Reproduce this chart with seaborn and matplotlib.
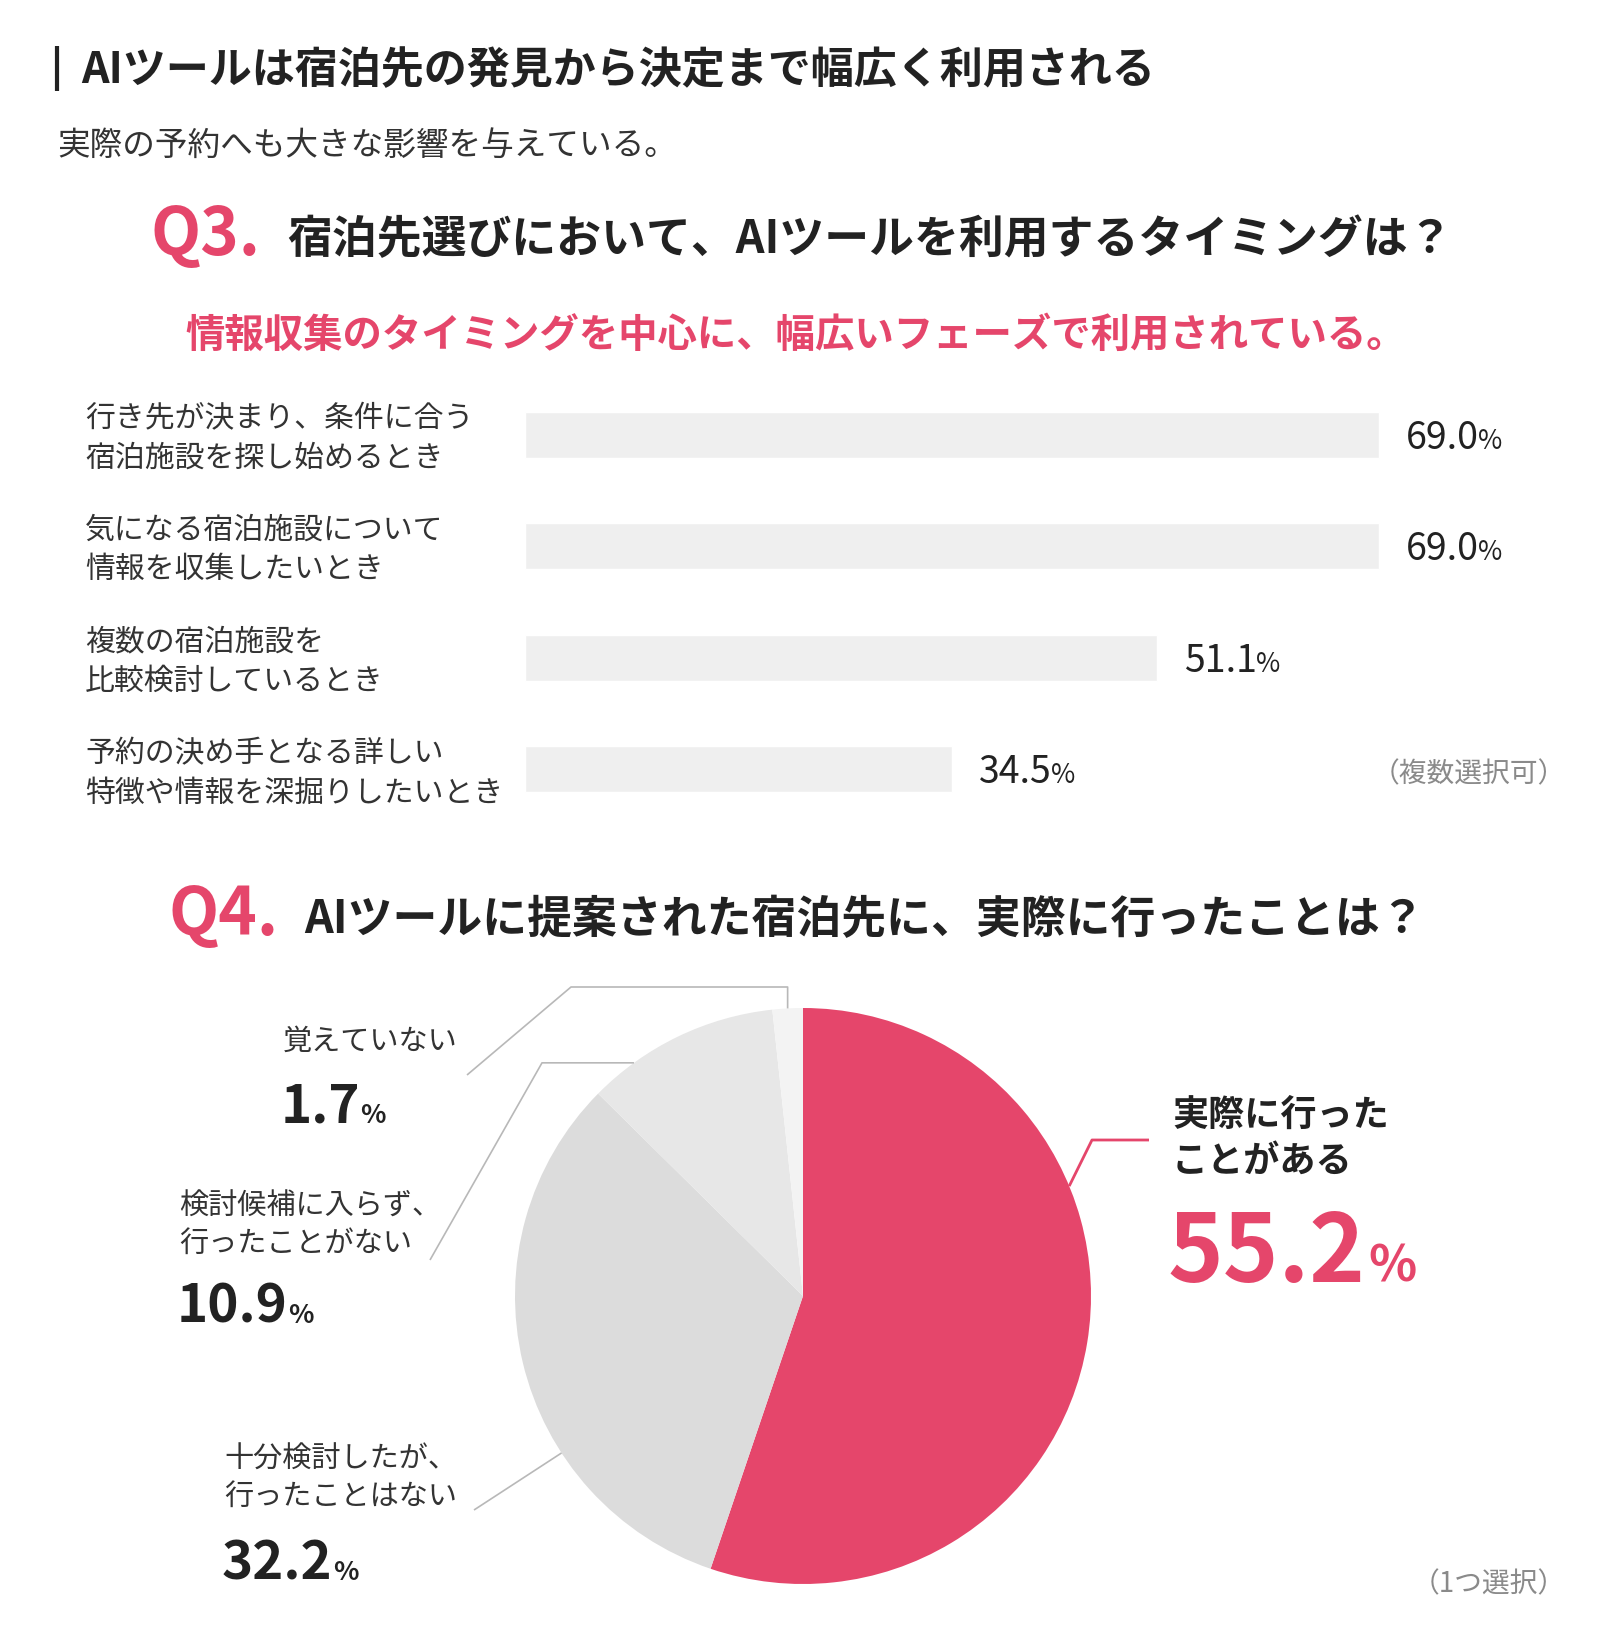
import matplotlib
matplotlib.use("Agg")
import matplotlib.pyplot as plt
import seaborn as sns
import pandas as pd
import numpy as np
from matplotlib.lines import Line2D
from matplotlib.transforms import IdentityTransform

sns.set_theme(style="white")
plt.rcParams['font.family'] = ['Noto Sans CJK JP', 'DejaVu Sans']

PINK = '#e5466b'
DARK = '#222222'
LINE_GREY = '#b8b8b8'

# Q3 data (multiple answers)
q3_labels = ["行き先が決まり、条件に合う\n宿泊施設を探し始めるとき",
             "気になる宿泊施設について\n情報を収集したいとき",
             "複数の宿泊施設を\n比較検討しているとき",
             "予約の決め手となる詳しい\n特徴や情報を深掘りしたいとき"]
q3_values = [69.0, 69.0, 51.1, 34.5]

# Q4 data (single answer)
q4_labels = ["実際に行った\nことがある",
             "十分検討したが、\n行ったことはない",
             "検討候補に入らず、\n行ったことがない",
             "覚えていない"]
q4_values = [55.2, 32.2, 10.9, 1.7]
q4_colors = [PINK, '#dcdcdc', '#e7e7e7', '#f3f3f3']

W, H = 1600, 1631
fig = plt.figure(figsize=(W / 100, H / 100), dpi=100)
fig.patch.set_facecolor('white')
renderer = fig.canvas.get_renderer()


def txt(x, y, s, size, **kw):
    # x, y in image pixels (y from top)
    kw.setdefault('color', DARK)
    kw.setdefault('va', 'center')
    return fig.text(x / W, 1 - y / H, s, fontsize=size, **kw)


def num_pct(x_disp, y_base_disp, num, nsize, psize, color=DARK, weight='normal', gap=0):
    t = fig.text(x_disp / W, y_base_disp / H, num, fontsize=nsize, color=color,
                 weight=weight, va='baseline', ha='left')
    bb = t.get_window_extent(renderer)
    fig.text((bb.x1 + gap) / W, y_base_disp / H, '%', fontsize=psize, color=color,
             weight=weight, va='baseline', ha='left')


def poly(points, color=LINE_GREY, lw=1.2):
    xs = [p[0] for p in points]
    ys = [H - p[1] for p in points]
    fig.add_artist(Line2D(xs, ys, color=color, lw=lw, transform=IdentityTransform(),
                          solid_capstyle='butt'))


# ---- header
poly([(57, 47), (57, 92)], color=DARK, lw=3)
txt(81, 70, "AIツールは宿泊先の発見から決定まで幅広く利用される", 31, weight='bold')
txt(57, 146, "実際の予約へも大きな影響を与えている。", 23.5, color='#333333')

# ---- Q3
txt(150, 236, "Q3.", 47, weight='bold', color=PINK)
txt(287, 240, "宿泊先選びにおいて、AIツールを利用するタイミングは？", 32.3, weight='bold')
txt(796, 335, "情報収集のタイミングを中心に、幅広いフェーズで利用されている。", 28.4,
    weight='bold', color=PINK, ha='center')

df3 = pd.DataFrame({'label': q3_labels, 'value': q3_values})
ax_bar = fig.add_axes([525 / W, (H - 826) / H, 1000 / W, 446 / H])
sns.barplot(data=df3, x='value', y='label', orient='h', color='#efefef',
            saturation=1, width=0.41, ax=ax_bar)
ax_bar.set_xlim(0, 69.0 * 1000 / 854)
ax_bar.set_ylim(3.5, -0.5)
ax_bar.axis('off')

for i, (lab, v) in enumerate(zip(q3_labels, q3_values)):
    xd, yd = ax_bar.transData.transform((v, i))
    _, y0 = ax_bar.transData.transform((0, i))
    fig.text(85 / W, (y0 - 3) / H, lab, fontsize=21.5, color='#333333',
             va='center', ha='left', linespacing=1.35)
    num_pct(xd + 27, yd - 13, f"{v:.1f}", 27, 19, gap=-1)

txt(1566, 774, "（複数選択可）", 20, color='#8a8a8a', ha='right')

# ---- Q4
txt(168, 916, "Q4.", 47, weight='bold', color=PINK)
txt(304, 920, "AIツールに提案された宿泊先に、実際に行ったことは？", 32.3, weight='bold')

r_px = 288 * 1.02
ax_pie = fig.add_axes([(803 - r_px) / W, (H - 1297 - r_px) / H, 2 * r_px / W, 2 * r_px / H])
wedges, _ = ax_pie.pie(q4_values, colors=q4_colors, startangle=90, counterclock=False,
                       radius=1, wedgeprops=dict(linewidth=0))
ax_pie.set_xlim(-1.02, 1.02)
ax_pie.set_ylim(-1.02, 1.02)
ax_pie.axis('off')


def edge_pt(w, frac):
    a = np.deg2rad(w.theta1 + frac * (w.theta2 - w.theta1))
    xd, yd = ax_pie.transData.transform((np.cos(a), np.sin(a)))
    return (xd, H - yd)


# leader lines
p = edge_pt(wedges[0], 0.66)
poly([p, (1092, 1141), (1149, 1141)], color=PINK, lw=2)
p = edge_pt(wedges[1], 0.67)
poly([p, (474, 1511)])
p = edge_pt(wedges[2], 0.76)
poly([p, (542, p[1]), (430, 1261)])
p = edge_pt(wedges[3], 0.5)
poly([p, (p[0], 988), (571, 988), (467, 1076)])

# pie labels
txt(1172, 1138, q4_labels[0], 26, weight='bold', linespacing=1.3)
num_pct(1168, H - 1282, f"{q4_values[0]:.1f}", 68, 36, color=PINK, weight='bold', gap=2)

txt(224, 1478, q4_labels[1], 21, color='#333333', linespacing=1.3)
num_pct(222, H - 1580, f"{q4_values[1]:.1f}", 38, 19, weight='bold', gap=0)

txt(179, 1225, q4_labels[2], 21, color='#333333', linespacing=1.3)
num_pct(177, H - 1323, f"{q4_values[2]:.1f}", 38, 19, weight='bold', gap=0)

txt(283, 1042, q4_labels[3], 21, color='#333333')
num_pct(281, H - 1123, f"{q4_values[3]:.1f}", 38, 19, weight='bold', gap=0)

txt(1566, 1584, "（1つ選択）", 20, color='#8a8a8a', ha='right')

fig.savefig("out.png", dpi=100, facecolor='white')
